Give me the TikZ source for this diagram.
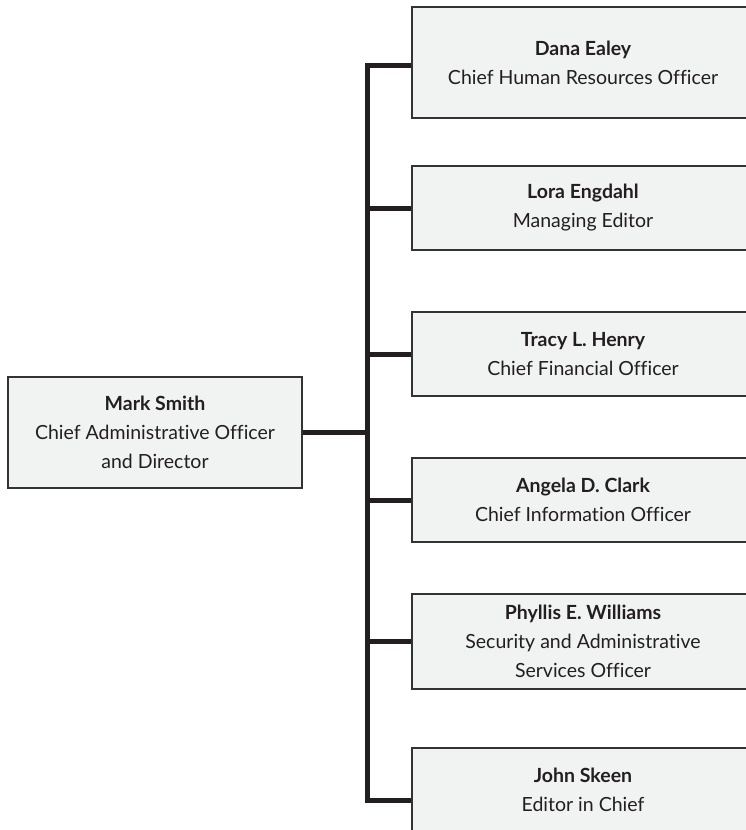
\documentclass[tikz,border=0pt]{standalone}
\usepackage{fontspec}
\setmainfont[Ligatures=NoCommon]{Lato}
\begin{document}
\begin{tikzpicture}[x=1pt,y=-1pt,
  box/.style={draw=boxline, fill=boxfill, line width=1.3pt, align=center,
    inner sep=0pt, font=\fontsize{19.5}{29}\selectfont, text=txt},
  conn/.style={draw=connline, line width=5pt, line join=miter}]
\definecolor{boxfill}{HTML}{F1F2F2}
\definecolor{boxline}{HTML}{333333}
\definecolor{connline}{HTML}{231F20}
\definecolor{txt}{HTML}{231F20}
\useasboundingbox (0,0) rectangle (746,830);
\clip (0,0) rectangle (746,830);

% head of the unit
\node[box, minimum width=294pt, minimum height=111pt] (mark) at (155,432.5)
  {\textbf{Mark Smith}\\Chief Administrative Officer\\and Director};

% direct reports
\node[box, minimum width=342pt, minimum height=111pt] (dana) at (583,62.5)
  {\textbf{Dana Ealey}\\Chief Human Resources Officer};
\node[box, minimum width=342pt, minimum height=84pt] (lora) at (583,208)
  {\textbf{Lora Engdahl}\\Managing Editor};
\node[box, minimum width=342pt, minimum height=84pt] (tracy) at (583,354)
  {\textbf{Tracy L. Henry}\\Chief Financial Officer};
\node[box, minimum width=342pt, minimum height=84pt] (angela) at (583,500)
  {\textbf{Angela D. Clark}\\Chief Information Officer};
\node[box, minimum width=342pt, minimum height=95pt] (phyllis) at (583,641.5)
  {\textbf{Phyllis E. Williams}\\Security and Administrative\\Services Officer};
\node[box, minimum width=342pt, minimum height=84pt] (skeen) at (583,790)
  {\textbf{John Skeen}\\Editor in Chief};

% trunk line
\coordinate (tx) at (367,0);
\coordinate (dtop) at ([yshift=-2.5pt]dana.west);
\coordinate (sbot) at ([yshift=-10pt]skeen.west);
\draw[conn] (dtop) -- (dtop -| tx) -- (sbot -| tx) -- (sbot);
\draw[conn] (mark.east) -- (mark.east -| tx);
\foreach \n in {lora,tracy,angela,phyllis}
  \draw[conn] (\n.west -| tx) -- (\n.west);
\end{tikzpicture}
\end{document}
